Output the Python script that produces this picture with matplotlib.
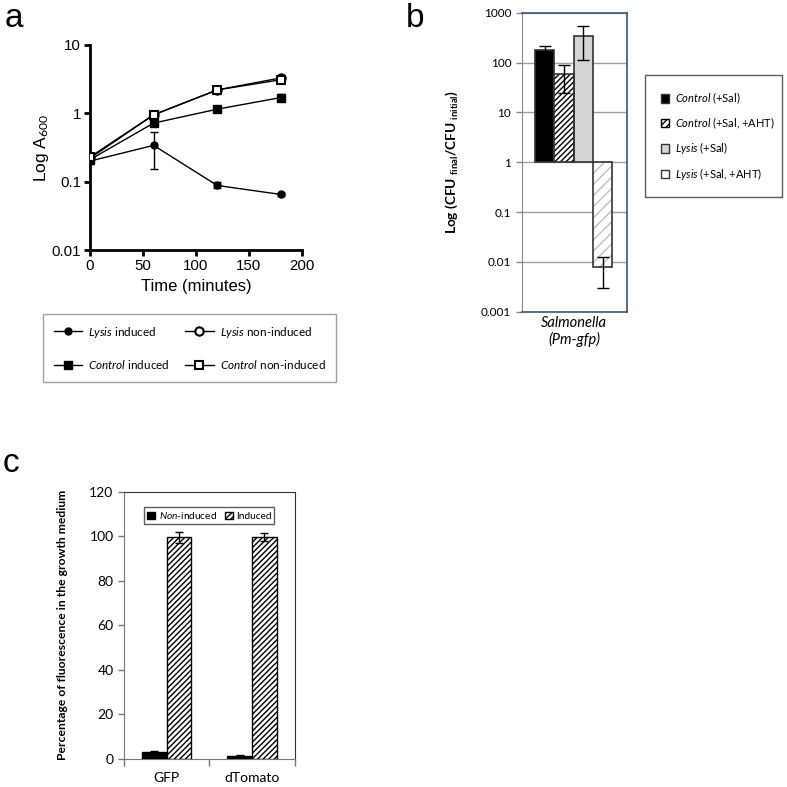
import matplotlib
matplotlib.use("Agg")
import matplotlib.pyplot as plt
import numpy as np
from matplotlib.patches import Patch
from matplotlib.lines import Line2D

plt.rcParams['mathtext.fontset'] = 'custom'
plt.rcParams['mathtext.rm'] = 'Lato'
plt.rcParams['mathtext.it'] = 'Lato:italic'
plt.rcParams['mathtext.bf'] = 'Lato:bold'

# ---------------- data ----------------
# panel a
time_min = [0, 60, 120, 180]
lysis_induced = [0.20, 0.34, 0.088, 0.065]
lysis_induced_err_lo = [0.01, 0.185, 0.008, 0.003]
lysis_induced_err_hi = [0.01, 0.19, 0.012, 0.003]
lysis_noninduced = [0.22, 0.95, 2.2, 3.3]
lysis_noninduced_err = [0.01, 0.05, 0.1, 0.2]
control_induced = [0.21, 0.72, 1.15, 1.7]
control_induced_err = [0.01, 0.05, 0.08, 0.2]
control_noninduced = [0.23, 0.95, 2.2, 3.1]
control_noninduced_err = [0.01, 0.06, 0.1, 0.25]

# panel b
b_labels = ["$\\mathit{Control}$ (+Sal)", "$\\mathit{Control}$ (+Sal, +AHT)",
            "$\\mathit{Lysis}$ (+Sal)", "$\\mathit{Lysis}$ (+Sal, +AHT)"]
b_values = [175, 60, 340, 0.008]
b_err_lo = [50, 35, 230, 0.005]
b_err_hi = [40, 30, 200, 0.0045]
b_ticks = [0.001, 0.01, 0.1, 1, 10, 100, 1000]
b_ticklabels = ["0.001", "0.01", "0.1", "1", "10", "100", "1000"]

# panel c
c_groups = ["GFP", "dTomato"]
c_noninduced = [3.0, 1.5]
c_noninduced_err = [0.8, 0.3]
c_induced = [99.5, 99.5]
c_induced_err = [2.5, 1.8]

W = H = 787
fig = plt.figure(figsize=(7.87, 7.87), dpi=100)

def rect(x0, y0, x1, y1):
    return [x0 / W, 1 - y1 / H, (x1 - x0) / W, (y1 - y0) / H]

# ---------------- panel a ----------------
axa = fig.add_axes(rect(90, 45, 302, 250))
arial = 'Liberation Sans'
lw = 1.0
ekw = dict(ecolor='black', elinewidth=1.0, capsize=3, capthick=1.0)
axa.errorbar(time_min, lysis_induced, yerr=[lysis_induced_err_lo, lysis_induced_err_hi],
             color='black', lw=lw, marker='o', ms=5, mfc='black', mec='black', **ekw, zorder=3)
axa.errorbar(time_min, control_induced, yerr=control_induced_err,
             color='black', lw=lw, marker='s', ms=5.5, mfc='black', mec='black', **ekw, zorder=3)
axa.errorbar(time_min, lysis_noninduced, yerr=lysis_noninduced_err,
             color='black', lw=lw, marker='o', ms=6, mfc='white', mec='black', mew=1.5, **ekw, zorder=4)
axa.errorbar(time_min, control_noninduced, yerr=control_noninduced_err,
             color='black', lw=lw, marker='s', ms=6, mfc='white', mec='black', mew=1.5, **ekw, zorder=5)
axa.set_yscale('log')
axa.set_ylim(0.01, 10)
axa.set_xlim(0, 200)
axa.set_xticks([0, 50, 100, 150, 200])
axa.set_yticks([0.01, 0.1, 1, 10])
axa.set_yticklabels(["0.01", "0.1", "1", "10"])
axa.yaxis.set_minor_locator(matplotlib.ticker.NullLocator())
for s in ['top', 'right']:
    axa.spines[s].set_visible(False)
for s in ['left', 'bottom']:
    axa.spines[s].set_linewidth(2.0)
axa.tick_params(axis='both', width=2.0, length=4, labelsize=10.8, direction='out', pad=2.5)
for lab in axa.get_xticklabels() + axa.get_yticklabels():
    lab.set_fontfamily(arial)
axa.set_xlabel("Time (minutes)", fontsize=12, fontfamily=arial, labelpad=4)
axa.set_ylabel("Log A$_{600}$", fontsize=12.5, fontfamily=arial, labelpad=0)

# legend a (figure level)
ha = [Line2D([], [], color='black', lw=1, marker='o', ms=5, mfc='black'),
      Line2D([], [], color='black', lw=1, marker='s', ms=5.5, mfc='black'),
      Line2D([], [], color='black', lw=1, marker='o', ms=6, mfc='white', mew=1.5),
      Line2D([], [], color='black', lw=1, marker='s', ms=6, mfc='white', mew=1.5)]
la = ["$\\mathit{Lysis}$ induced", "$\\mathit{Control}$ induced",
      "$\\mathit{Lysis}$ non-induced", "$\\mathit{Control}$ non-induced"]
lega = fig.legend(ha, la, loc='upper left', ncol=2,
                  bbox_to_anchor=(43 / W, 1 - 314 / H, 293 / W, 0.0), mode='expand',
                  borderaxespad=0,
                  prop={'family': 'Lato', 'size': 8.5}, frameon=True, fancybox=False,
                  edgecolor='#888888', handlelength=2.4, labelspacing=1.55,
                  columnspacing=0.9, handletextpad=0.5, borderpad=0.9)
lega.get_frame().set_linewidth(1.0)

# ---------------- panel b ----------------
axb = fig.add_axes(rect(521.7, 12.7, 627, 311.7))
xb = np.arange(len(b_values))
bw = 1.0
face = ['black', 'white', '#d4d4d4', 'white']
hatch = [None, '//////', None, '///']
hatch_col = [None, 'black', None, '#c0c0c0']
for i, v in enumerate(b_values):
    if hatch[i]:
        axb.bar(xb[i], v - 1, bottom=1, width=bw, color='white', edgecolor=hatch_col[i],
                hatch=hatch[i], linewidth=0, zorder=2)
        axb.bar(xb[i], v - 1, bottom=1, width=bw, fill=False, edgecolor='#333333',
                linewidth=1.2, zorder=3)
    else:
        axb.bar(xb[i], v - 1, bottom=1, width=bw, color=face[i], edgecolor='#333333',
                linewidth=1.2, zorder=2)
axb.errorbar(xb, b_values, yerr=[b_err_lo, b_err_hi], fmt='none', ecolor='black',
             elinewidth=1.0, capsize=4, capthick=1.0, zorder=4)
axb.set_yscale('log')
axb.set_ylim(0.001, 1000)
axb.set_xlim(-1.19, 4.26)
axb.set_yticks(b_ticks)
axb.set_yticklabels(b_ticklabels)
axb.yaxis.set_minor_locator(matplotlib.ticker.NullLocator())
axb.set_xticks([])
axb.grid(axis='y', color='#a0a0a0', lw=1.0, zorder=0)
axb.set_axisbelow(True)
axb.tick_params(axis='y', labelsize=8.5, length=4, width=1, color='#888888', direction='out')
for lab in axb.get_yticklabels():
    lab.set_fontfamily('Lato')
axb.spines['left'].set_color('#8a8a8a')
for s in ['top', 'right', 'bottom']:
    axb.spines[s].set_color('#3d5575')
    axb.spines[s].set_linewidth(1.2)
axb.set_ylabel("Log (CFU $_\\mathdefault{final}$/CFU $_\\mathdefault{initial}$)",
               fontsize=9.8, fontweight='bold', fontfamily='Lato', labelpad=15)
axb.set_xlabel("Salmonella\n(Pm-gfp)", fontsize=10.5, fontstyle='italic', fontfamily='Lato',
               labelpad=3, linespacing=1.15)

hb = [Patch(facecolor='black', edgecolor='#333333'),
      Patch(facecolor='white', edgecolor='black', hatch='/////'),
      Patch(facecolor='#d4d4d4', edgecolor='#333333'),
      Patch(facecolor='white', edgecolor='#333333')]
legb = fig.legend(hb, b_labels, loc='upper left',
                  bbox_to_anchor=(645 / W, 1 - 75 / H, 137 / W, 0.0), mode='expand',
                  borderaxespad=0,
                  prop={'family': 'Lato', 'size': 8.0}, frameon=True, fancybox=False,
                  edgecolor='#333333', handlelength=0.8, handleheight=0.8,
                  labelspacing=0.85, handletextpad=0.5, borderpad=1.4)
legb.get_frame().set_linewidth(1.0)

# ---------------- panel c ----------------
axc = fig.add_axes(rect(124, 491.7, 294.7, 759))
xc = np.arange(len(c_groups))
cw = 0.29
axc.bar(xc - cw / 2, c_noninduced, width=cw, color='black', edgecolor='black', lw=1,
        label="$\\mathit{Non}$-induced", zorder=2)
axc.bar(xc + cw / 2, c_induced, width=cw, color='white', edgecolor='black', lw=1,
        hatch='//////', label="Induced", zorder=2)
axc.errorbar(xc - cw / 2, c_noninduced, yerr=c_noninduced_err, fmt='none', ecolor='black',
             elinewidth=1, capsize=3, capthick=1, zorder=3)
axc.errorbar(xc + cw / 2, c_induced, yerr=c_induced_err, fmt='none', ecolor='black',
             elinewidth=1, capsize=3, capthick=1, zorder=3)
axc.set_xlim(-0.5, 1.5)
axc.set_ylim(0, 120)
axc.set_yticks(range(0, 121, 20))
axc.set_xticks(xc)
axc.set_xticklabels(c_groups, fontfamily='Lato', fontsize=10)
axc.set_xticks([-0.5, 0.5, 1.5], minor=True)
axc.tick_params(axis='x', which='major', length=0, pad=9)
axc.tick_params(axis='x', which='minor', length=5, width=1, color='#777777', direction='out')
axc.tick_params(axis='y', labelsize=10, length=4, width=1, color='#777777', direction='out')
for lab in axc.get_yticklabels():
    lab.set_fontfamily('Lato')
for s in ['left', 'bottom']:
    axc.spines[s].set_color('#777777')
for s in ['top', 'right']:
    axc.spines[s].set_color('#333333')
axc.set_ylabel("Percentage of fluorescence in the growth medium", fontsize=8.7,
               fontweight='bold', fontfamily='Lato', labelpad=15)
legc = axc.legend(loc='upper center', ncol=2, bbox_to_anchor=(0.5, 0.962),
                  prop={'family': 'Lato', 'size': 7.3}, frameon=True, fancybox=False,
                  edgecolor='#333333', handlelength=0.8, handleheight=0.8,
                  handletextpad=0.3, columnspacing=0.8, borderpad=0.3)
legc.get_frame().set_linewidth(1.0)

# panel letters
fig.text(14 / W, 1 - 27 / H, "a", fontsize=24, fontfamily=arial, va='baseline', ha='center')
fig.text(415 / W, 1 - 27 / H, "b", fontsize=24, fontfamily=arial, va='baseline', ha='center')
fig.text(11 / W, 1 - 472 / H, "c", fontsize=24, fontfamily=arial, va='baseline', ha='center')

fig.savefig("out.png", dpi=100)
